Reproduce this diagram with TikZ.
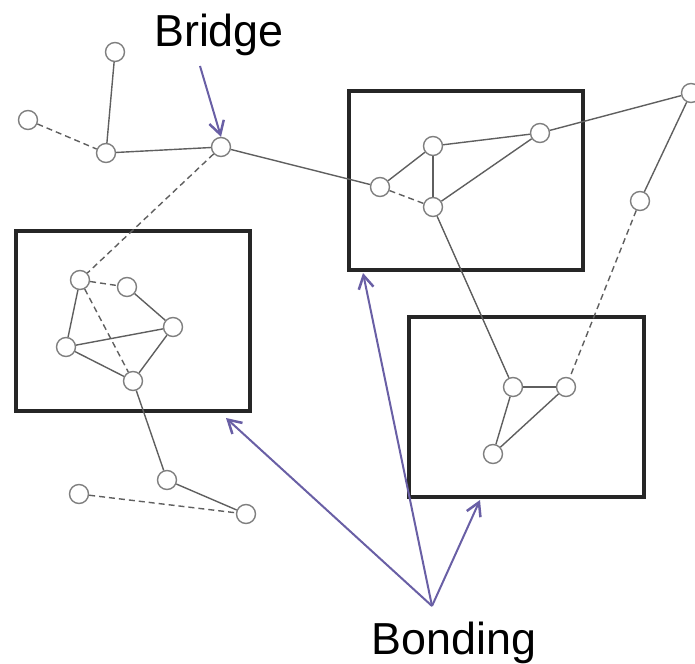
\documentclass[tikz,border=0pt]{standalone}
\usepackage{fontspec}
\setmainfont{Liberation Sans}
\usetikzlibrary{arrows.meta}

\definecolor{edgegray}{RGB}{95,95,95}
\definecolor{arrowpurple}{RGB}{105,95,165}

\tikzset{
  atom/.style={circle, draw=edgegray!80, fill=white, line width=1.4bp, minimum size=19bp, inner sep=0pt},
  bond/.style={edgegray, line width=1.4bp},
  weak/.style={bond, dashed, dash pattern=on 6bp off 4bp},
  group/.style={draw=black!85, line width=3.5bp},
  pointer/.style={arrowpurple, line width=2bp, -{Straight Barb[length=13bp,width=15bp,line width=2.5bp]}},
  caption/.style={anchor=base, font=\fontsize{45}{54}\selectfont}
}

\begin{document}
\begin{tikzpicture}[x=1bp, y=-1bp]
\useasboundingbox (0,0) rectangle (695,664);

\draw[group] (349,91) rectangle (583,270);
\draw[group] (16,231) rectangle (250,411);
\draw[group] (409,317) rectangle (644,497);

\node[atom] (t1) at (115,52) {};
\node[atom] (t2) at (28,120) {};
\node[atom] (t3) at (106,153) {};
\node[atom] (br) at (221,147) {};
\node[atom] (u1) at (380,187) {};
\node[atom] (u2) at (433,146) {};
\node[atom] (u3) at (433,207) {};
\node[atom] (u4) at (540,133) {};
\node[atom] (r1) at (691,93) {};
\node[atom] (r2) at (640,201) {};
\node[atom] (l1) at (80,280) {};
\node[atom] (l2) at (127,287) {};
\node[atom] (l3) at (173,327) {};
\node[atom] (l4) at (66,347) {};
\node[atom] (l5) at (133,381) {};
\node[atom] (d1) at (167,480) {};
\node[atom] (d2) at (79,494) {};
\node[atom] (d3) at (246,514) {};
\node[atom] (k1) at (513,387) {};
\node[atom] (k2) at (566,387) {};
\node[atom] (k3) at (493,454) {};

\draw[bond] (t1) -- (t3);
\draw[weak] (t2) -- (t3);
\draw[bond] (t3) -- (br);
\draw[bond] (br) -- (u1);
\draw[weak] (br) -- (l1);
\draw[bond] (u1) -- (u2);
\draw[weak] (u1) -- (u3);
\draw[bond] (u2) -- (u3);
\draw[bond] (u2) -- (u4);
\draw[bond] (u3) -- (u4);
\draw[bond] (u4) -- (r1);
\draw[bond] (r1) -- (r2);
\draw[weak] (r2) -- (k2);
\draw[bond] (u3) -- (k1);
\draw[bond] (k1) -- (k2);
\draw[bond] (k1) -- (k3);
\draw[bond] (k2) -- (k3);
\draw[weak] (l1) -- (l2);
\draw[bond] (l1) -- (l4);
\draw[weak] (l1) -- (l5);
\draw[bond] (l2) -- (l3);
\draw[bond] (l4) -- (l3);
\draw[bond] (l4) -- (l5);
\draw[bond] (l3) -- (l5);
\draw[bond] (l5) -- (d1);
\draw[bond] (d1) -- (d3);
\draw[weak] (d2) -- (d3);

\node[caption] (bridge) at (219,47) {Bridge};
\node[caption] (bonding) at (454,654) {Bonding};

\coordinate (from) at (200,66);
\coordinate (hub) at (432,606);
\coordinate (g1) at (226,418);
\coordinate (g2) at (363,273);
\coordinate (g3) at (480,500);

\draw[pointer] (from) -- (br.north);
\draw[pointer] (hub) -- (g1);
\draw[pointer] (hub) -- (g2);
\draw[pointer] (hub) -- (g3);
\end{tikzpicture}
\end{document}
